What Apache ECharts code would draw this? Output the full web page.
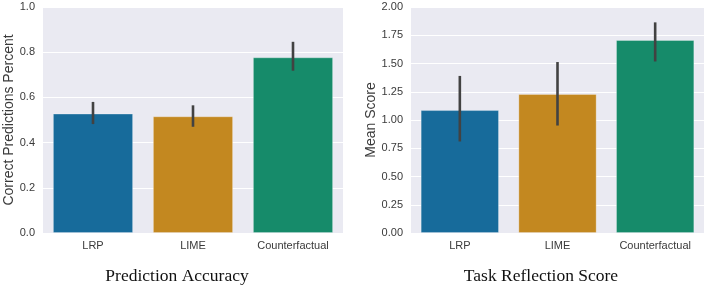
<!DOCTYPE html>
<html>
<head>
<meta charset="utf-8">
<script src="https://cdn.jsdelivr.net/npm/echarts@6/dist/echarts.min.js"></script>
<style>
html,body{margin:0;padding:0;background:#fff;}
#c{width:708px;height:285px;}
</style>
</head>
<body>
<div id="c"></div>
<script>
const categories = ['LRP', 'LIME', 'Counterfactual'];
const barColors = ['#176b9b', '#c38820', '#168b6a'];

const accuracyValues = [0.528, 0.516, 0.777];
const accuracyLow = [0.482, 0.470, 0.718];
const accuracyHigh = [0.580, 0.565, 0.846];
const accuracyTicks = { min: 0, max: 1.0, interval: 0.2, decimals: 1 };

const scoreValues = [1.087, 1.229, 1.707];
const scoreLow = [0.810, 0.951, 1.518];
const scoreHigh = [1.390, 1.513, 1.864];
const scoreTicks = { min: 0, max: 2.0, interval: 0.25, decimals: 2 };

const chartTitles = ['Prediction Accuracy', 'Task Reflection Score'];
const yNames = ['Correct Predictions Percent', 'Mean Score'];

const chart = echarts.init(document.getElementById('c'), null, { renderer: 'canvas' });

const sans = 'Liberation Sans, Arial, sans-serif';
const labelColor = '#3a3a3a';

function xAxis(idx) {
  return {
    type: 'category', gridIndex: idx, data: categories,
    axisLine: { show: false }, axisTick: { show: false },
    axisLabel: { color: labelColor, fontSize: 11, fontFamily: sans, margin: 7 },
    splitLine: { show: false }
  };
}
function yAxis(idx, t, name) {
  return {
    type: 'value', gridIndex: idx, min: t.min, max: t.max, interval: t.interval,
    name: name, nameLocation: 'middle', nameGap: idx === 0 ? 26 : 33, nameRotate: 90,
    nameTextStyle: { color: labelColor, fontSize: 14, fontFamily: sans },
    axisLine: { show: false }, axisTick: { show: false },
    axisLabel: { color: labelColor, fontSize: 11, fontFamily: sans, margin: 8,
      formatter: v => v.toFixed(t.decimals) },
    splitLine: { show: true, lineStyle: { color: '#ffffff', width: 1 } }
  };
}
function bars(idx, vals) {
  return {
    type: 'bar', xAxisIndex: idx, yAxisIndex: idx, barWidth: '80%',
    data: vals.map((v, i) => ({ value: v, itemStyle: { color: barColors[i] } })),
    itemStyle: { borderColor: 'rgba(255,255,255,0.35)', borderWidth: 0.8 },
    z: 2, silent: true
  };
}
function errBars(idx, lo, hi) {
  return {
    type: 'custom', xAxisIndex: idx, yAxisIndex: idx, z: 5, silent: true,
    data: lo.map((l, i) => [i, l, hi[i]]),
    renderItem: function (params, api) {
      const p1 = api.coord([api.value(0), api.value(1)]);
      const p2 = api.coord([api.value(0), api.value(2)]);
      return { type: 'line', shape: { x1: p1[0], y1: p1[1], x2: p2[0], y2: p2[1] },
        style: { stroke: '#424242', lineWidth: 2.6 } };
    }
  };
}

chart.setOption({
  animation: false,
  backgroundColor: '#ffffff',
  grid: [
    { left: 43, right: 365, top: 7, bottom: 52, show: true, backgroundColor: '#eaeaf2', borderWidth: 0 },
    { left: 411, right: 4, top: 7, bottom: 52, show: true, backgroundColor: '#eaeaf2', borderWidth: 0 }
  ],
  title: [
    { text: chartTitles[0], left: 172, top: 262, textAlign: 'center',
      textStyle: { fontFamily: 'Liberation Serif, Times New Roman, serif', fontSize: 17.5, fontWeight: 'normal', color: '#111' } },
    { text: chartTitles[1], left: 536, top: 262, textAlign: 'center',
      textStyle: { fontFamily: 'Liberation Serif, Times New Roman, serif', fontSize: 17.5, fontWeight: 'normal', color: '#111' } }
  ],
  xAxis: [xAxis(0), xAxis(1)],
  yAxis: [yAxis(0, accuracyTicks, yNames[0]), yAxis(1, scoreTicks, yNames[1])],
  series: [
    bars(0, accuracyValues), errBars(0, accuracyLow, accuracyHigh),
    bars(1, scoreValues), errBars(1, scoreLow, scoreHigh)
  ]
});
</script>
</body>
</html>
